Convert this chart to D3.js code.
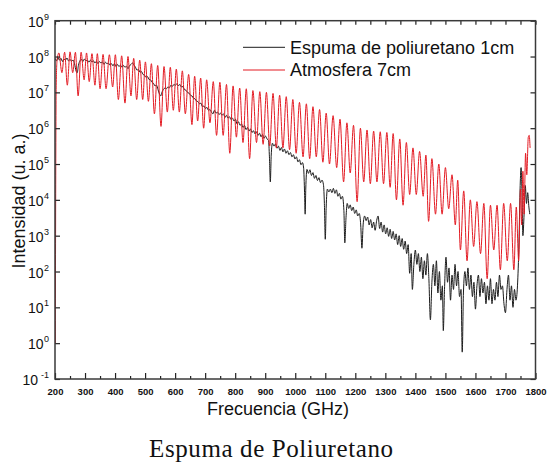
<!DOCTYPE html>
<html lang="es">
<head>
<meta charset="UTF-8">
<title>Espuma de Poliuretano</title>
<script src="https://cdn.jsdelivr.net/npm/d3@7/dist/d3.min.js"></script>
<style>
    body { margin: 0; background: #fff; }
    svg { display: block; }
    .tick line { stroke: #222; stroke-width: 1.2px; }
    .xlab text { font: bold 9.5px "Liberation Sans", Arial, sans-serif; fill: #111; }
    .ylab { font: 14px "Liberation Sans", Arial, sans-serif; fill: #111; }
    .atitle { font: 18px "Liberation Sans", Arial, sans-serif; fill: #111; }
    .legend text { font: 18px "Liberation Sans", Arial, sans-serif; fill: #111; }
</style>
</head>
<body>
<div id="chart"></div>
<script>
// frequency (GHz), log10 of intensity (u. a.)
const foam = [
    [200,7.95],[205,7.88],[210,7.97],[215,7.9],[220,7.95],[225,7.86],[230,7.93],[235,7.9],[240,7.96],[245,7.88],
    [250,7.92],[255,7.87],[260,7.9],[265,7.8],[270,7.6],[274,7.55],[278,7.75],[283,7.88],[288,7.92],[293,7.86],
    [298,7.93],[303,7.88],[308,7.9],[313,7.84],[318,7.9],[323,7.85],[328,7.88],[333,7.82],[338,7.87],[343,7.8],
    [348,7.86],[353,7.82],[358,7.85],[363,7.78],[368,7.84],[373,7.8],[378,7.82],[383,7.76],[388,7.8],[393,7.74],
    [398,7.8],[403,7.72],[408,7.78],[413,7.72],[418,7.76],[423,7.7],[428,7.75],[433,7.7],[438,7.73],[443,7.66],
    [448,7.74],[453,7.78],[458,7.82],[463,7.76],[468,7.7],[473,7.62],[478,7.64],[483,7.56],[488,7.58],[493,7.5],
    [498,7.48],[503,7.42],[508,7.44],[513,7.36],[518,7.35],[523,7.28],[528,7.25],[533,7.18],[538,7.2],[543,7.08],
    [548,6.95],[552,6.9],[556,7.0],[561,7.08],[566,7.12],[571,7.1],[576,7.15],[581,7.13],[586,7.2],[591,7.17],
    [596,7.22],[601,7.2],[606,7.24],[611,7.19],[616,7.22],[621,7.15],[626,7.16],[631,7.08],[636,7.06],[641,7.0],
    [646,6.98],[651,6.92],[656,6.9],[661,6.84],[666,6.82],[671,6.76],[676,6.74],[681,6.68],[686,6.7],[691,6.6],
    [696,6.62],[701,6.55],[706,6.58],[711,6.5],[716,6.52],[721,6.45],[726,6.4],[731,6.5],[736,6.42],[741,6.45],
    [746,6.38],[751,6.42],[756,6.36],[761,6.4],[766,6.3],[771,6.36],[776,6.28],[781,6.32],[786,6.24],[791,6.28],
    [796,6.2],[801,6.25],[806,6.12],[811,6.18],[816,6.08],[821,6.12],[826,6.02],[831,6.08],[836,5.96],[841,6.02],
    [846,5.92],[851,5.98],[856,5.88],[861,5.93],[866,5.84],[871,5.9],[876,5.8],[881,5.86],[886,5.76],[891,5.82],
    [896,5.72],[901,5.78],[906,5.7],[911,5.66],[914,5.2],[917,4.5],[920,5.25],[924,5.58],[929,5.5],[934,5.56],
    [939,5.44],[944,5.5],[949,5.38],[954,5.46],[959,5.34],[964,5.42],[969,5.3],[974,5.37],[979,5.26],[984,5.32],
    [989,5.2],[994,5.26],[999,5.14],[1004,5.2],[1009,5.06],[1014,5.12],[1019,4.98],[1024,5.04],[1028,4.88],[1031,4.2],
    [1033,3.6],[1035,4.3],[1039,4.85],[1044,4.74],[1049,4.84],[1054,4.68],[1059,4.76],[1064,4.6],[1069,4.68],[1074,4.54],
    [1079,4.62],[1084,4.48],[1089,4.55],[1094,4.42],[1097,3.9],[1100,2.9],[1103,3.8],[1107,4.3],[1112,4.22],[1117,4.3],
    [1122,4.2],[1127,4.32],[1132,4.18],[1137,4.28],[1142,4.1],[1147,4.18],[1152,4.02],[1157,4.1],[1162,3.7],[1165,2.8],
    [1169,3.5],[1173,3.9],[1178,3.76],[1183,3.86],[1188,3.7],[1193,3.8],[1198,3.62],[1203,3.72],[1208,3.55],[1213,3.62],
    [1218,3.3],[1222,2.65],[1226,3.3],[1231,3.55],[1236,3.42],[1241,3.52],[1246,3.3],[1251,3.45],[1256,3.22],[1261,3.38],
    [1266,3.15],[1271,3.42],[1276,3.55],[1281,3.2],[1286,3.38],[1291,3.1],[1296,3.3],[1301,3.05],[1306,3.22],[1311,2.98],
    [1316,3.18],[1321,2.92],[1326,3.12],[1331,2.88],[1336,3.05],[1341,2.75],[1346,3.0],[1351,2.7],[1356,2.92],[1361,2.62],
    [1366,2.85],[1371,2.5],[1376,2.75],[1381,1.95],[1386,2.5],[1390,1.5],[1395,2.2],[1400,2.6],[1405,2.2],[1410,2.5],
    [1415,2.0],[1420,2.4],[1425,1.8],[1430,2.3],[1435,1.9],[1440,2.5],[1445,1.8],[1450,0.65],[1455,1.7],[1460,2.2],
    [1465,1.6],[1470,2.3],[1475,1.4],[1480,2.0],[1485,1.2],[1490,1.6],[1493,0.35],[1497,1.5],[1502,2.4],[1507,1.7],
    [1512,2.1],[1517,1.2],[1522,1.9],[1527,1.5],[1532,2.2],[1537,1.6],[1542,2.0],[1547,1.3],[1552,1.5],[1556,-0.25],
    [1560,1.4],[1565,2.0],[1570,1.6],[1575,2.1],[1580,1.5],[1585,1.9],[1590,1.3],[1595,1.7],[1600,0.95],[1605,1.6],
    [1610,1.9],[1615,1.3],[1620,1.8],[1625,1.4],[1630,1.7],[1635,1.1],[1640,1.6],[1645,1.2],[1650,1.8],[1655,1.1],
    [1660,1.5],[1665,1.2],[1670,1.7],[1675,1.3],[1680,1.9],[1685,1.5],[1690,1.6],[1695,1.1],[1700,0.85],[1705,1.5],
    [1710,1.9],[1715,1.2],[1720,1.6],[1725,1.0],[1730,1.5],[1735,1.2],[1740,1.6],[1745,2.8],[1749,4.4],[1752,4.9],
    [1755,4.2],[1758,3.0],[1762,3.6],[1766,4.4],[1770,3.9],[1774,4.2],[1778,3.8],[1781,3.6]
];

const atmosphere = [
    [201,0.0],[204,7.2],[207,7.9],[213,8.1],[223,7.55],[232,8.12],[241,7.2],[250,8.13],[259,7.55],[268,8.12],
    [277,6.9],[287,8.12],[297,7.35],[305,8.1],[314,7.3],[323,8.08],[333,7.2],[341,8.08],[350,7.1],[360,8.06],
    [370,7.1],[381,8.05],[392,7.15],[401,8.05],[411,6.8],[422,8.02],[433,6.7],[443,8.0],[453,6.9],[462,7.95],
    [472,6.8],[482,7.9],[492,6.8],[501,7.85],[511,6.75],[521,7.8],[531,6.4],[542,7.75],[553,6.05],[563,7.72],
    [574,6.45],[584,7.7],[594,6.5],[604,7.65],[614,6.45],[624,7.6],[634,6.4],[645,7.5],[656,6.1],[665,7.45],
    [675,6.2],[685,7.4],[695,6.0],[705,7.35],[716,6.15],[727,7.3],[738,5.8],[749,7.28],[760,5.8],[771,7.22],
    [782,5.3],[793,7.18],[804,5.75],[815,7.12],[826,5.6],[837,7.1],[848,5.15],[859,7.05],[871,5.6],[882,7.02],
    [893,5.55],[904,7.0],[915,5.5],[926,6.97],[937,5.45],[948,6.92],[959,5.45],[970,6.88],[981,5.4],[992,6.8],
    [1003,5.3],[1014,6.72],[1026,5.2],[1037,6.68],[1048,5.15],[1059,6.6],[1070,5.2],[1081,6.52],[1092,5.05],[1103,6.42],
    [1114,5.0],[1126,6.35],[1138,4.9],[1149,6.25],[1161,4.5],[1172,6.15],[1183,4.75],[1194,6.08],[1206,3.95],[1217,6.0],
    [1228,4.5],[1239,5.95],[1250,4.45],[1261,5.92],[1272,4.5],[1283,5.9],[1294,4.45],[1305,5.88],[1316,4.35],[1326,5.85],
    [1337,4.0],[1348,5.7],[1359,3.85],[1370,5.6],[1381,4.15],[1392,5.45],[1403,4.15],[1414,5.35],[1426,4.1],[1435,5.25],
    [1444,3.4],[1455,5.15],[1467,3.6],[1478,5.0],[1489,3.6],[1500,4.9],[1511,3.75],[1522,4.7],[1533,3.3],[1541,4.55],
    [1550,2.6],[1561,4.25],[1572,2.3],[1583,4.0],[1594,2.7],[1605,3.95],[1617,2.5],[1628,3.9],[1639,1.8],[1650,3.85],
    [1661,2.6],[1672,3.85],[1683,2.05],[1694,3.9],[1706,2.3],[1717,3.9],[1728,2.05],[1736,3.8],[1744,2.3],[1750,4.3],
    [1754,3.3],[1758,4.8],[1762,3.6],[1767,5.3],[1771,4.7],[1776,5.75],[1779,5.8],[1782,5.45]
];

const xMajor = [200, 300, 400, 500, 600, 700, 800, 900, 1000, 1100, 1200, 1300, 1400, 1500, 1600, 1700, 1800];
const xMinor = [250, 350, 450, 550, 650, 750, 850, 950, 1050, 1150, 1250, 1350, 1450, 1550, 1650, 1750];
const yExps = [-1, 0, 1, 2, 3, 4, 5, 6, 7, 8, 9];
const seriesNames = ["Espuma de poliuretano 1cm", "Atmosfera 7cm"];
const seriesColors = ["#1c1c1c", "#e31b23"];

const W = 551, H = 469;
const pLeft = 55, pRight = 535.5, pTop = 20.7, pBottom = 379;

const svg = d3.select("#chart").append("svg")
    .attr("width", W)
    .attr("height", H);

const x = d3.scaleLinear().domain([200, 1800]).range([pLeft, pRight]);
const y = d3.scaleLog().domain([0.1, 1e9]).range([pBottom, pTop]);
const yTicks = yExps.map(e => Math.pow(10, e));

svg.append("clipPath").attr("id", "plot")
    .append("rect")
    .attr("x", pLeft).attr("y", pTop)
    .attr("width", pRight - pLeft).attr("height", pBottom - pTop);

const line = d3.line()
    .x(d => x(d[0]))
    .y(d => y(Math.pow(10, d[1])))
    .curve(d3.curveMonotoneX);

const lines = svg.append("g").attr("clip-path", "url(#plot)");
[foam, atmosphere].forEach((s, i) => {
    lines.append("path")
        .datum(s)
        .attr("fill", "none")
        .attr("stroke", seriesColors[i])
        .attr("stroke-width", 1)
        .attr("stroke-linejoin", "round")
        .attr("d", line);
});

// ticks (all pointing inwards)
svg.append("g").attr("class", "xlab")
    .attr("transform", `translate(0,${pBottom})`)
    .call(d3.axisBottom(x).tickValues(xMajor).tickSize(-6).tickPadding(9).tickFormat(d3.format("d")))
    .call(g => g.select(".domain").remove());

svg.append("g")
    .attr("transform", `translate(0,${pBottom})`)
    .call(d3.axisBottom(x).tickValues(xMinor).tickSize(-3).tickFormat(""))
    .call(g => g.select(".domain").remove());

svg.append("g")
    .attr("transform", `translate(0,${pTop})`)
    .call(d3.axisTop(x).tickValues(xMajor.concat(xMinor)).tickSize(-4).tickFormat(""))
    .call(g => g.select(".domain").remove());

svg.append("g")
    .attr("transform", `translate(${pLeft},0)`)
    .call(d3.axisLeft(y).tickValues(yTicks).tickSize(-5).tickFormat(""))
    .call(g => g.select(".domain").remove());

svg.append("g")
    .attr("transform", `translate(${pRight},0)`)
    .call(d3.axisRight(y).tickValues(yTicks).tickSize(-5).tickFormat(""))
    .call(g => g.select(".domain").remove());

// frame
svg.append("rect")
    .attr("x", pLeft).attr("y", pTop)
    .attr("width", pRight - pLeft).attr("height", pBottom - pTop)
    .attr("fill", "none")
    .attr("stroke", "#3a3a3a")
    .attr("stroke-width", 1.5);

// y tick labels 10^n
yExps.forEach(e => {
    const t = svg.append("text")
        .attr("class", "ylab")
        .attr("x", 49)
        .attr("y", y(Math.pow(10, e)) + 6)
        .attr("text-anchor", "end");
    t.append("tspan").text("10");
    t.append("tspan")
        .attr("font-size", "9px")
        .attr("dx", e < 0 ? 3 : 0.5)
        .attr("dy", -7)
        .text(e);
});

// axis titles
svg.append("text")
    .attr("class", "atitle")
    .attr("x", 278).attr("y", 415)
    .attr("text-anchor", "middle")
    .text("Frecuencia (GHz)");

svg.append("text")
    .attr("class", "atitle")
    .attr("transform", "translate(25,201) rotate(-90)")
    .attr("text-anchor", "middle")
    .text("Intensidad (u. a.)");

// legend
const legend = svg.append("g").attr("class", "legend");
seriesNames.forEach((name, i) => {
    const ly = 47.3 + i * 22.7;
    legend.append("line")
        .attr("x1", 243).attr("x2", 285)
        .attr("y1", ly).attr("y2", ly)
        .attr("stroke", seriesColors[i])
        .attr("stroke-width", 1);
    legend.append("text")
        .attr("x", 290).attr("y", ly + 6.3)
        .text(name);
});

// caption
svg.append("text")
    .attr("x", 271).attr("y", 457)
    .attr("text-anchor", "middle")
    .attr("font-family", "'Liberation Serif', 'DejaVu Serif', serif")
    .attr("font-size", "25px")
    .attr("textLength", 244)
    .attr("lengthAdjust", "spacing")
    .attr("fill", "#111")
    .text("Espuma de Poliuretano");
</script>
</body>
</html>
